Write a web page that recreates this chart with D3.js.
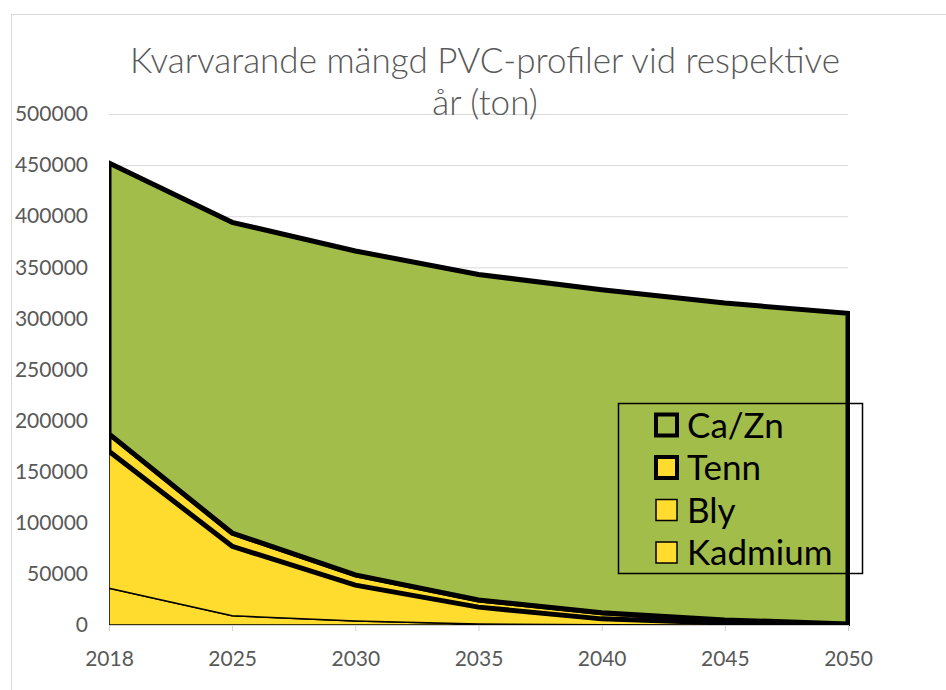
<!DOCTYPE html>
<html lang="sv">
<head>
    <meta charset="UTF-8">
    <style>
        body { margin: 0; background: #fff; }
        svg text { font-family: Lato, "Open Sans", sans-serif; }
        .axis text { font-size: 21px; fill: #595959; }
        .grid line { stroke: #d9d9d9; stroke-width: 1; }
        .title { font-size: 35px; font-weight: 300; fill: #595959; text-anchor: middle; }
        .legend text { font-size: 35px; fill: #000; }
    </style>
    <script src="https://d3js.org/d3.v7.min.js"></script>
    <title>Kvarvarande mängd PVC-profiler</title>
</head>
<body>
    <svg width="946" height="690"></svg>

    <script>

        // data (ton)
        var years = ["2018", "2025", "2030", "2035", "2040", "2045", "2050"];
        var kadmium = [36000, 9000, 4000, 1000, 300, 100, 0];
        var bly = [134000, 68000, 35000, 16500, 5700, 1900, 500];
        var tenn = [17000, 13000, 10000, 7000, 6000, 3000, 500];
        var caZn = [265000, 304000, 317000, 318500, 316000, 310000, 304000];
        var yTicks = [0, 50000, 100000, 150000, 200000, 250000, 300000, 350000, 400000, 450000, 500000];

        var series = [
            { key: "Kadmium", label: "Kadmium", values: kadmium, fill: "#ffdc2e", stroke: 1.5 },
            { key: "Bly", label: "Bly", values: bly, fill: "#ffdc2e", stroke: 1.5 },
            { key: "Tenn", label: "Tenn", values: tenn, fill: "#ffdc2e", stroke: 5 },
            { key: "CaZn", label: "Ca/Zn", values: caZn, fill: "#a2bd4a", stroke: 5 }
        ];

        var svg = d3.select("svg");

        // plot area edges
        var pLeft = 109, pRight = 848, pTop = 114, pBottom = 625;

        var x = d3.scalePoint().domain(years).range([pLeft, pRight]);
        var y = d3.scaleLinear().domain([0, 500000]).range([pBottom, pTop]);

        // chart frame
        svg.append("rect")
           .attr("x", 11.5).attr("y", 14.5)
           .attr("width", 1000).attr("height", 1000)
           .attr("fill", "none")
           .attr("stroke", "#d9d9d9");

        // gridlines
        svg.append("g")
           .attr("class", "grid")
           .attr("transform", "translate(" + pLeft + ",0)")
           .call(d3.axisLeft(y).tickValues(yTicks).tickSize(-(pRight - pLeft)).tickFormat(""))
           .call(function(g) { g.select(".domain").remove(); });

        // stack the series
        var rows = years.map(function(yr, i) {
            var r = { year: yr };
            series.forEach(function(s) { r[s.key] = s.values[i]; });
            return r;
        });
        var stacked = d3.stack().keys(series.map(function(s) { return s.key; }))(rows);

        var area = d3.area()
                     .x(function(d) { return x(d.data.year); })
                     .y0(function(d) { return y(d[0]); })
                     .y1(function(d) { return y(d[1]); });

        svg.append("clipPath").attr("id", "plot")
           .append("rect")
           .attr("x", pLeft).attr("y", 0)
           .attr("width", pRight - pLeft + 2).attr("height", pBottom + 1);

        svg.append("g")
           .attr("clip-path", "url(#plot)")
           .selectAll("path")
           .data(stacked)
           .enter().append("path")
           .attr("d", area)
           .attr("fill", function(d, i) { return series[i].fill; })
           .attr("stroke", "#000")
           .attr("stroke-width", function(d, i) { return series[i].stroke; })
           .attr("stroke-linejoin", "miter");

        // x axis
        var xAxis = svg.append("g")
           .attr("class", "axis")
           .attr("transform", "translate(0," + pBottom + ")")
           .call(d3.axisBottom(x).tickSize(6).tickPadding(20));
        xAxis.selectAll("line, .domain").attr("stroke", "#d0d0d0");
        xAxis.select(".domain").attr("d", "M" + pLeft + ",0.5H" + pRight);

        // y axis labels
        svg.append("g")
           .attr("class", "axis")
           .attr("transform", "translate(" + pLeft + ",0)")
           .call(d3.axisLeft(y).tickValues(yTicks).tickSize(0).tickPadding(21).tickFormat(d3.format("d")))
           .call(function(g) { g.select(".domain").remove(); });

        // title
        svg.append("text").attr("class", "title")
           .attr("x", 485).attr("y", 73)
           .text("Kvarvarande mängd PVC-profiler vid respektive");
        svg.append("text").attr("class", "title")
           .attr("x", 485).attr("y", 115)
           .text("år (ton)");

        // legend
        var legend = svg.append("g").attr("class", "legend");
        legend.append("rect")
              .attr("x", 618.5).attr("y", 403.5)
              .attr("width", 244).attr("height", 170)
              .attr("fill", "none")
              .attr("stroke", "#000")
              .attr("stroke-width", 1.5);

        var items = legend.selectAll("g.item")
              .data(series.slice().reverse())
              .enter().append("g")
              .attr("class", "item")
              .attr("transform", function(d, i) { return "translate(0," + (425 + i * 42.5) + ")"; });

        items.append("rect")
             .attr("x", 656).attr("y", -10.5)
             .attr("width", 21).attr("height", 21)
             .attr("fill", function(d) { return d.fill; })
             .attr("stroke", "#000")
             .attr("stroke-width", function(d) { return d.stroke > 2 ? 4 : 1.5; });

        items.append("text")
             .attr("x", 687)
             .attr("y", 0)
             .attr("dy", "0.36em")
             .text(function(d) { return d.label; });

    </script>
</body>
</html>
